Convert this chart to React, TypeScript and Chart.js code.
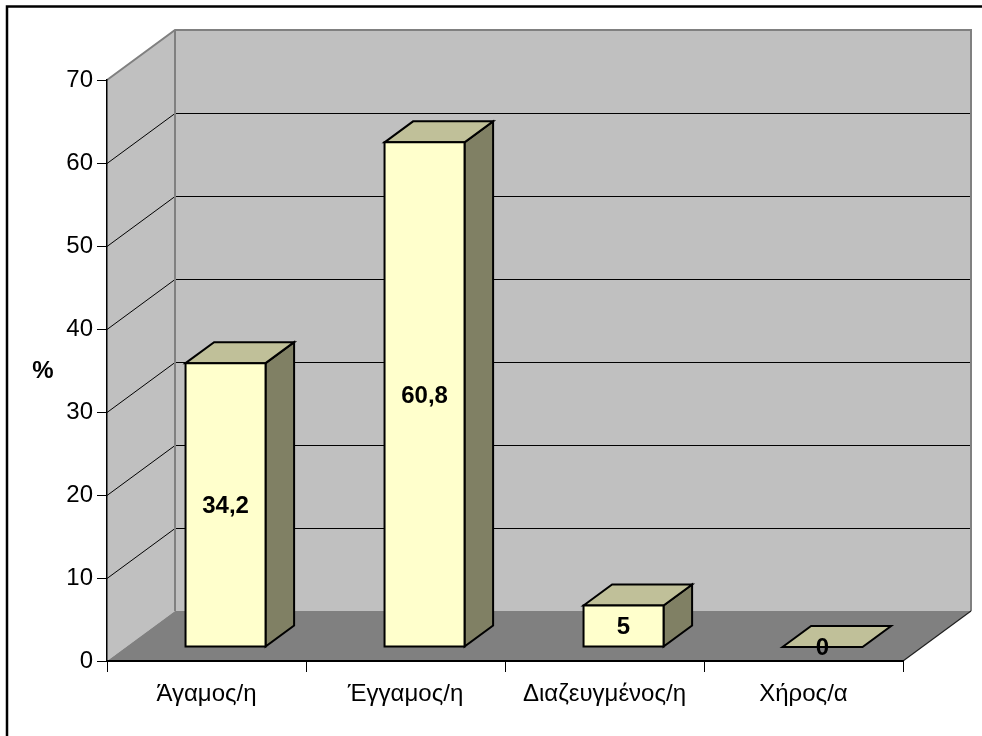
import { useEffect, useRef } from 'react';
import { Chart, registerables } from 'chart.js';

Chart.register(...registerables);

const categories = ['Άγαμος/η', 'Έγγαμος/η', 'Διαζευγμένος/η', 'Χήρος/α'];
const percentages = [34.2, 60.8, 5, 0];
const valueLabels = ['34,2', '60,8', '5', '0'];
const yMin = 0;
const yMax = 70;
const yStep = 10;
const yAxisTitle = '%';

const FONT = '"Liberation Sans", Arial, sans-serif';

// oblique projection of the 3D box
const DEPTH_X = 68;
const DEPTH_Y = 50;
const BAR_FRONT = 0.28; // bar front face, as a fraction of the floor depth
const BAR_BACK = 0.7; // bar back face

const WALL = '#C0C0C0';
const FLOOR = '#808080';
const EDGE = '#808080';
const BAR_FACE = '#FFFFCC';
const BAR_TOP = '#C0C099';
const BAR_SIDE = '#808064';

type Pt = [number, number];

function poly(ctx: CanvasRenderingContext2D, pts: Pt[], fill?: string, stroke?: string, lw = 1) {
  ctx.beginPath();
  ctx.moveTo(pts[0][0], pts[0][1]);
  for (let i = 1; i < pts.length; i++) ctx.lineTo(pts[i][0], pts[i][1]);
  ctx.closePath();
  if (fill) {
    ctx.fillStyle = fill;
    ctx.fill();
  }
  if (stroke) {
    ctx.strokeStyle = stroke;
    ctx.lineWidth = lw;
    ctx.stroke();
  }
}

function line(ctx: CanvasRenderingContext2D, pts: Pt[], color: string, lw: number) {
  ctx.beginPath();
  ctx.moveTo(pts[0][0], pts[0][1]);
  for (let i = 1; i < pts.length; i++) ctx.lineTo(pts[i][0], pts[i][1]);
  ctx.strokeStyle = color;
  ctx.lineWidth = lw;
  ctx.stroke();
}

// walls, floor and gridlines of the 3D box
const boxWalls = {
  id: 'boxWalls',
  beforeDraw(chart: any) {
    const { ctx, chartArea: a, scales } = chart;
    const y = scales.y;
    const L = a.left, R = a.right, T = a.top, B = a.bottom;
    const dx = DEPTH_X, dy = DEPTH_Y;
    ctx.save();
    poly(ctx, [[L, T], [L + dx, T - dy], [L + dx, B - dy], [L, B]], WALL);
    poly(ctx, [[L + dx, T - dy], [R + dx, T - dy], [R + dx, B - dy], [L + dx, B - dy]], WALL);
    poly(ctx, [[L, B], [L + dx, B - dy], [R + dx, B - dy], [R, B]], FLOOR);

    for (let v = yMin + yStep; v < yMax; v += yStep) {
      const py = Math.round(y.getPixelForValue(v)) + 0.5;
      line(ctx, [[L, py], [L + dx, py - dy], [R + dx, py - dy]], '#000000', 1);
    }

    line(ctx, [[L, T], [L + dx, T - dy], [R + dx, T - dy], [R + dx, B - dy]], EDGE, 2);
    line(ctx, [[L + dx, T - dy], [L + dx, B - dy]], EDGE, 2);
    line(ctx, [[R, B], [R + dx, B - dy]], '#202020', 1.2);
    ctx.restore();
  },
  afterDraw(chart: any) {
    const { ctx, chartArea: a } = chart;
    ctx.save();
    ctx.strokeStyle = '#000000';
    ctx.lineWidth = 2.5;
    ctx.strokeRect(7, 6.5, 2000, 2000);
    ctx.fillStyle = '#000000';
    ctx.font = `bold 24px ${FONT}`;
    ctx.textAlign = 'center';
    ctx.textBaseline = 'middle';
    ctx.fillText(yAxisTitle, 43, (a.top + a.bottom) / 2 + 0.5);
    ctx.restore();
  },
};

// 3D bars built from the bar elements' scale positions
const bars3d = {
  id: 'bars3d',
  afterDatasetsDraw(chart: any) {
    const { ctx } = chart;
    const meta = chart.getDatasetMeta(0);
    const ox = DEPTH_X * BAR_FRONT;
    const oy = DEPTH_Y * BAR_FRONT;
    const dx = DEPTH_X * (BAR_BACK - BAR_FRONT);
    const dy = DEPTH_Y * (BAR_BACK - BAR_FRONT);
    ctx.save();
    ctx.lineJoin = 'miter';
    meta.data.forEach((el: any, i: number) => {
      const p = el.getProps(['x', 'y', 'base', 'width'], true);
      const l = p.x - p.width / 2 + ox;
      const r = p.x + p.width / 2 + ox;
      const t = p.y - oy;
      const b = p.base - oy;
      if (b - t > 0.5) {
        poly(ctx, [[r, b], [r, t], [r + dx, t - dy], [r + dx, b - dy]], BAR_SIDE, '#000000', 2);
      }
      poly(ctx, [[l, t], [l + dx, t - dy], [r + dx, t - dy], [r, t]], BAR_TOP, '#000000', 2);
      if (b - t > 0.5) {
        poly(ctx, [[l, t], [r, t], [r, b], [l, b]], BAR_FACE, '#000000', 2);
      }
      ctx.fillStyle = '#000000';
      ctx.font = `bold 24px ${FONT}`;
      ctx.textAlign = 'center';
      ctx.textBaseline = 'middle';
      ctx.fillText(valueLabels[i], (l + r) / 2, (t + b) / 2 + 1.5);
    });
    ctx.restore();
  },
};

export default function App() {
  const ref = useRef<HTMLCanvasElement | null>(null);

  useEffect(() => {
    if (!ref.current) return;
    const chart = new Chart(ref.current, {
      type: 'bar',
      data: {
        labels: categories,
        datasets: [
          {
            data: percentages,
            backgroundColor: 'rgba(0,0,0,0)',
            borderWidth: 0,
            categoryPercentage: 1,
            barPercentage: 0.402,
          },
        ],
      },
      options: {
        responsive: false,
        animation: false,
        devicePixelRatio: 1,
        layout: { padding: { left: 0, top: 80, right: 79, bottom: 0 } },
        plugins: {
          legend: { display: false },
          tooltip: { enabled: false },
          title: { display: false },
        },
        scales: {
          x: {
            offset: true,
            grid: {
              offset: true,
              drawOnChartArea: false,
              drawTicks: true,
              tickLength: 11,
              color: '#000000',
              lineWidth: 1,
            },
            border: { display: true, color: '#000000', width: 2 },
            ticks: {
              color: '#000000',
              font: { family: FONT, size: 24 },
              padding: 8,
              maxRotation: 0,
              autoSkip: false,
            },
            afterFit: (s: any) => {
              s.height = 75;
            },
          },
          y: {
            min: yMin,
            max: yMax,
            grid: {
              drawOnChartArea: false,
              drawTicks: true,
              tickLength: 10,
              color: '#000000',
              lineWidth: 1,
            },
            border: { display: true, color: '#000000', width: 1.5 },
            ticks: {
              stepSize: yStep,
              color: '#000000',
              font: { family: FONT, size: 24 },
              padding: 4,
            },
            afterFit: (s: any) => {
              s.width = 107;
            },
          },
        },
      },
      plugins: [boxWalls, bars3d],
    });
    return () => chart.destroy();
  }, []);

  return (
    <div style={{ position: 'absolute', left: 0, top: 0, width: 982, height: 736, background: '#ffffff' }}>
      <canvas ref={ref} width={982} height={736} style={{ display: 'block' }} />
    </div>
  );
}
